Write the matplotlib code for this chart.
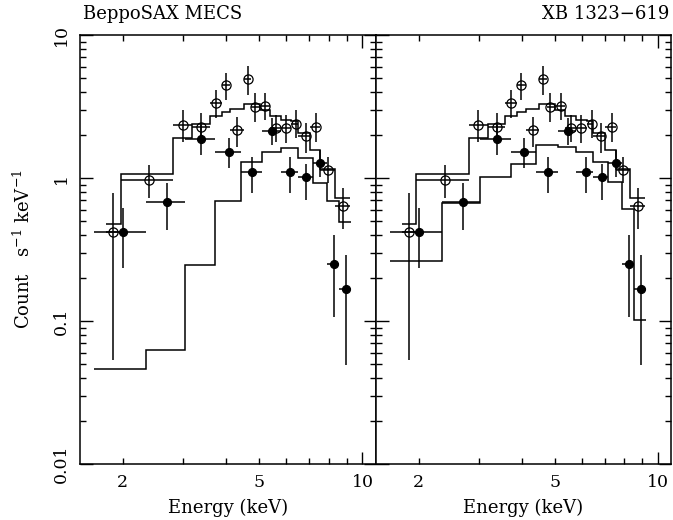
## BeppoSAX MECS spectra of XB 1323-619, two model fits side by side
import matplotlib
matplotlib.use('Agg')
import matplotlib.pyplot as plt
from matplotlib.ticker import FixedLocator, FuncFormatter
import numpy as np

plt.rcParams['font.family'] = ['DejaVu Serif']
plt.rcParams['mathtext.fontset'] = 'dejavuserif'

# open circles (first observation), bin edges and counts
openEdges = [1.79, 1.97, 2.80, 3.18, 3.58, 3.88, 4.12, 4.51, 4.74, 5.01,
             5.36, 5.77, 6.20, 6.49, 7.02, 7.54, 8.30, 9.18]
openE = [1.87, 2.39, 2.99, 3.39, 3.73, 3.99, 4.31, 4.62, 4.85, 5.21,
         5.58, 5.97, 6.42, 6.83, 7.34, 7.94, 8.78]
openRate = [0.42, 0.97, 2.35, 2.29, 3.36, 4.47, 2.17, 4.92, 3.15, 3.18,
            2.25, 2.25, 2.39, 1.97, 2.26, 1.14, 0.64]
openHi = [0.78, 1.23, 2.99, 2.83, 4.12, 5.45, 2.68, 6.07, 3.91, 3.91,
          2.76, 2.76, 2.99, 2.41, 2.83, 1.41, 0.85]
openLo = [0.053, 0.72, 1.79, 1.79, 2.61, 3.51, 1.66, 3.80, 2.48, 2.55,
          1.79, 1.75, 1.89, 1.49, 1.79, 0.92, 0.44]
openModel = [0.474, 1.06, 1.89, 2.38, 2.72, 2.91, 3.04, 3.27, 3.27, 2.99,
             2.72, 2.55, 2.50, 2.05, 1.58, 1.15, 0.72]

# filled circles (second observation)
fillEdges = [1.65, 2.34, 3.03, 3.72, 4.41, 5.10, 5.79, 6.48, 7.17, 7.86,
             8.55, 9.24]
fillE = [2.00, 2.69, 3.39, 4.08, 4.77, 5.46, 6.16, 6.86, 7.54, 8.25, 8.94]
fillRate = [0.42, 0.676, 1.87, 1.52, 1.10, 2.13, 1.10, 1.02, 1.28, 0.252, 0.168]
fillHi = [0.614, 0.918, 2.35, 1.89, 1.41, 2.61, 1.41, 1.26, 1.57, 0.40, 0.29]
fillLo = [0.233, 0.432, 1.45, 1.17, 0.78, 1.70, 0.78, 0.70, 1.02, 0.107, 0.049]
fillModelLeft = [0.046, 0.0626, 0.247, 0.693, 1.30, 1.53, 1.61, 1.37,
                 0.927, 0.693, 0.495]
fillModelRight = [0.263, 0.666, 1.01, 1.25, 1.70, 1.66, 1.53, 1.30,
                  0.94, 0.604, 0.1016]

W, H = 673, 520
fig = plt.figure(figsize=(W / 100, H / 100), dpi=100)
axL = fig.add_axes([80 / W, 1 - 464 / H, 296 / W, 429 / H])
axR = fig.add_axes([376 / W, 1 - 464 / H, 295 / W, 429 / H])


def drawPanel(ax, fillModel):
    ax.set_xscale('log')
    ax.set_yscale('log')
    ax.stairs(openModel, openEdges, color='k', lw=1.1, baseline=None)
    ax.stairs(fillModel, fillEdges, color='k', lw=1.1, baseline=None)

    oE = np.array(openE)
    oEdge = np.array(openEdges)
    xerrO = [oE - oEdge[:-1], oEdge[1:] - oE]
    yerrO = [np.array(openRate) - np.array(openLo),
             np.array(openHi) - np.array(openRate)]
    ax.errorbar(oE, openRate, xerr=xerrO, yerr=yerrO, fmt='o', ms=6.6,
                mfc='none', mec='k', mew=0.9, ecolor='k', elinewidth=1.1,
                capsize=0)

    fE = np.array(fillE)
    fEdge = np.array(fillEdges)
    xerrF = [fE - fEdge[:-1], fEdge[1:] - fE]
    yerrF = [np.array(fillRate) - np.array(fillLo),
             np.array(fillHi) - np.array(fillRate)]
    ax.errorbar(fE, fillRate, xerr=xerrF, yerr=yerrF, fmt='o', ms=5.6,
                mfc='k', mec='k', ecolor='k', elinewidth=1.1, capsize=0)

    ax.set_xlim(1.5, 10.95)
    ax.set_ylim(0.01, 10)
    ax.xaxis.set_major_locator(FixedLocator([10]))
    ax.xaxis.set_minor_locator(FixedLocator([2, 3, 4, 5, 6, 7, 8, 9]))
    ax.xaxis.set_major_formatter(FuncFormatter(lambda v, p: '10'))
    ax.xaxis.set_minor_formatter(
        FuncFormatter(lambda v, p: '%d' % round(v) if round(v) in (2, 5) else ''))
    ymin = [m * 10.0 ** d for d in (-2, -1, 0) for m in range(2, 10)]
    ax.yaxis.set_major_locator(FixedLocator([0.01, 0.1, 1, 10]))
    ax.yaxis.set_minor_locator(FixedLocator(ymin))
    ax.tick_params(which='both', direction='in', top=True, right=True,
                   width=1, labelsize=12.5, pad=7)
    ax.tick_params(which='major', length=9)
    ax.tick_params(which='minor', length=4.5)
    for sp in ax.spines.values():
        sp.set_linewidth(1.1)
    ax.set_xlabel('Energy (keV)', fontsize=13, labelpad=6)


drawPanel(axL, fillModelLeft)
drawPanel(axR, fillModelRight)

axL.yaxis.set_major_formatter(
    FuncFormatter(lambda v, p: {0.01: '0.01', 0.1: '0.1', 1: '1', 10: '10'}.get(v, '')))
axL.yaxis.set_minor_formatter(FuncFormatter(lambda v, p: ''))
for lab in axL.get_yticklabels():
    lab.set_rotation(90)
    lab.set_va('center')
axR.tick_params(axis='y', which='both', labelleft=False)
axL.set_ylabel(r'Count   s$^{-1}$ keV$^{-1}$', fontsize=13, labelpad=14)

fig.text(83 / W, 1 - 14 / H, 'BeppoSAX MECS', fontsize=13, ha='left', va='center')
fig.text(669 / W, 1 - 14 / H, 'XB 1323\u2212619', fontsize=13, ha='right', va='center')

fig.savefig('out.png', dpi=100)
